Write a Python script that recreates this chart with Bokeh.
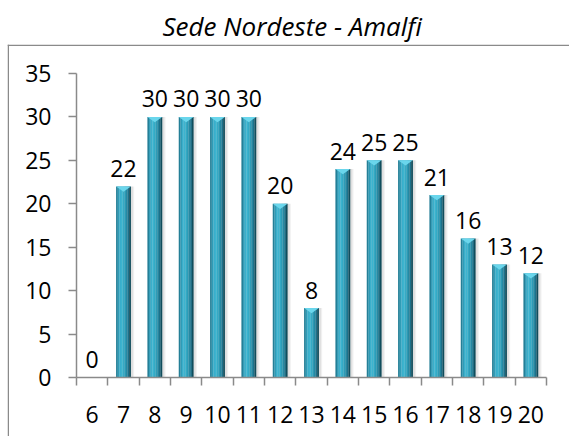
from bokeh.plotting import figure
from bokeh.models import (ColumnDataSource, FixedTicker, Range1d, Span)
from bokeh.transform import dodge
from bokeh.core.properties import value
from bokeh.embed import file_html
from bokeh.resources import INLINE

# ---- data ----
title_text = "Sede Nordeste - Amalfi"
hours = [6, 7, 8, 9, 10, 11, 12, 13, 14, 15, 16, 17, 18, 19, 20]
counts = [0, 22, 30, 30, 30, 30, 20, 8, 24, 25, 25, 21, 16, 13, 12]
y_ticks = [0, 5, 10, 15, 20, 25, 30, 35]

FONT = "Open Sans"
AXIS_COLOR = "#8a8a8a"

W, H = 569, 436
BOX_LEFT, BOX_TOP = 7, 44           # chart-area box corner (px)
AX_L, AX_R, AX_T, AX_B = 76, 546, 73, 377   # plot-area (axes) extents (px)

x0, x1 = hours[0] - 0.5, hours[-1] + 0.5
y0, y1 = y_ticks[0], y_ticks[-1]
kx = (AX_R - AX_L) / (x1 - x0)
ky = (AX_B - AX_T) / (y1 - y0)

src = ColumnDataSource(dict(
    x=hours,
    top=counts,
    lbl=[str(c) for c in counts],
))

p = figure(width=W, height=H, output_backend="svg", toolbar_location=None,
           x_range=Range1d(x0 - (AX_L - BOX_LEFT) / kx, x1 + (W - AX_R) / kx),
           y_range=Range1d(y0 - (H - AX_B) / ky, y1 + (AX_T - BOX_TOP) / ky),
           min_border_left=BOX_LEFT, min_border_right=0,
           min_border_top=BOX_TOP, min_border_bottom=0,
           title=title_text)
p.outline_line_color = None
p.grid.visible = False
p.background_fill_color = "white"
p.border_fill_color = "white"

p.title.align = "left"
p.title.offset = 155
p.title.text_font = FONT
p.title.text_font_style = "italic"
p.title.text_font_size = "26px"
p.title.text_color = "black"
p.title.standoff = 2

# box border (left and top edges)
p.add_layout(Span(location=p.x_range.start + 0.75 / kx, dimension="height",
                  line_color=AXIS_COLOR, line_width=1.5))
p.add_layout(Span(location=p.y_range.end - 0.75 / ky, dimension="width",
                  line_color=AXIS_COLOR, line_width=1.5))

# shadow
p.vbar(x=dodge("x", 0.07, range=p.x_range), top="top", width=0.54, bottom=0,
       source=src, fill_color="#000000", fill_alpha=0.06, line_color=None)
p.vbar(x=dodge("x", 0.05, range=p.x_range), top="top", width=0.50, bottom=0,
       source=src, fill_color="#000000", fill_alpha=0.07, line_color=None)

# cylinder-like gradient built from slices
bar_w = 0.47
shades = ["#247f97", "#2f9cb7", "#3aafcb", "#3cb4cf", "#35aac5",
          "#2d9cb7", "#2689a3", "#1d718a", "#114d5c"]
n = len(shades)
sw = bar_w / n
for i, col in enumerate(shades):
    off = -bar_w / 2 + sw / 2 + i * sw
    p.vbar(x=dodge("x", off, range=p.x_range), top="top", bottom=0,
           width=sw * 1.08, source=src, fill_color=col, line_color=None)

# top bevel (light triangle)
xs, ys = [], []
for h, c in zip(hours, counts):
    if c > 0:
        xs.append([h - bar_w / 2, h + bar_w / 2, h])
        ys.append([c, c, c - 0.6])
p.patches(xs, ys, fill_color="#6ad6ec", line_color=None)

# data labels
p.text(x="x", y="top", text="lbl", source=src, text_align="center",
       text_baseline="alphabetic", y_offset=-18,
       text_font=value(FONT), text_font_size="23px", text_color="black")

# axes
xa = p.xaxis[0]
xa.fixed_location = y0
xa.bounds = (x0, x1)
xa.ticker = FixedTicker(ticks=hours,
                        minor_ticks=[h - 0.5 for h in hours] + [hours[-1] + 0.5])
xa.major_tick_out = 0
xa.major_tick_in = 0
xa.minor_tick_out = 8
xa.minor_tick_in = 0
xa.minor_tick_line_color = AXIS_COLOR
xa.minor_tick_line_width = 1.5
xa.axis_line_color = AXIS_COLOR
xa.axis_line_width = 1.5
xa.major_label_text_font = FONT
xa.major_label_text_font_size = "23px"
xa.major_label_text_color = "black"
xa.major_label_standoff = 20

ya = p.yaxis[0]
ya.fixed_location = x0
ya.bounds = (y0, y1)
ya.ticker = FixedTicker(ticks=y_ticks)
ya.major_tick_out = 8
ya.major_tick_in = 0
ya.minor_tick_out = 0
ya.minor_tick_in = 0
ya.major_tick_line_color = AXIS_COLOR
ya.major_tick_line_width = 1.5
ya.axis_line_color = AXIS_COLOR
ya.axis_line_width = 1.5
ya.major_label_text_font = FONT
ya.major_label_text_font_size = "23px"
ya.major_label_text_color = "black"
ya.major_label_standoff = 17

open("out.html", "w").write(file_html(p, INLINE))
